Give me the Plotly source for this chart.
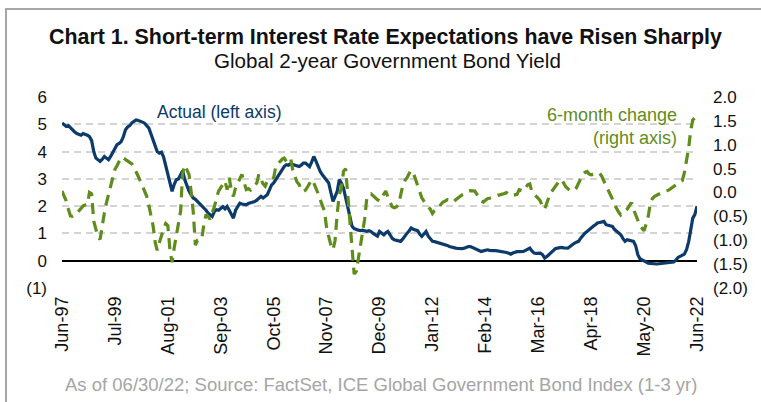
import pandas as pd
import plotly.graph_objects as go

# Monthly observations, Jun-1997 through Jun-2022
start_month = "1997-06-01"

actual_1997 = [5.05, 4.98, 4.92, 4.95, 4.86, 4.80, 4.72]
actual_1998 = [4.66, 4.62, 4.60, 4.66, 4.64, 4.60, 4.55, 4.40, 4.00, 3.76, 3.70, 3.64]
actual_1999 = [3.72, 3.82, 3.76, 3.70, 3.82, 3.95, 4.10, 4.25, 4.30, 4.37, 4.55, 4.80]
actual_2000 = [4.90, 4.95, 5.05, 5.12, 5.16, 5.14, 5.12, 5.08, 5.04, 4.95, 4.86, 4.65]
actual_2001 = [4.40, 4.13, 4.00, 3.94, 3.98, 3.80, 3.50, 3.20, 2.85, 2.54, 2.80, 2.97]
actual_2002 = [3.00, 3.15, 3.30, 2.97, 2.75, 2.55, 2.42, 2.30, 2.25, 2.17, 2.10, 2.05]
actual_2003 = [1.95, 1.85, 1.75, 1.70, 1.62, 1.80, 1.87, 1.85, 1.93, 1.98, 1.90, 1.99]
actual_2004 = [1.85, 1.70, 1.56, 1.85, 2.00, 2.11, 2.08, 2.05, 2.05, 2.10, 2.12, 2.15]
actual_2005 = [2.17, 2.22, 2.30, 2.36, 2.30, 2.38, 2.42, 2.60, 2.78, 2.85, 2.97, 3.10]
actual_2006 = [3.25, 3.33, 3.45, 3.52, 3.50, 3.55, 3.52, 3.50, 3.48, 3.45, 3.50, 3.58]
actual_2007 = [3.58, 3.50, 3.45, 3.62, 3.82, 3.65, 3.45, 3.27, 3.15, 3.05, 2.95, 2.85]
actual_2008 = [2.50, 2.17, 2.35, 2.54, 2.97, 2.85, 2.66, 2.30, 1.93, 1.60, 1.26, 1.18]
actual_2009 = [1.14, 1.12, 1.10, 1.12, 1.10, 1.08, 1.10, 1.07, 1.00, 0.95, 0.90, 1.07]
actual_2010 = [1.00, 0.95, 1.02, 1.07, 0.95, 0.82, 0.77, 0.74, 0.72, 0.71, 0.80, 0.92]
actual_2011 = [1.01, 1.10, 1.20, 1.15, 1.12, 1.10, 0.98, 0.89, 0.98, 1.07, 0.90, 0.78]
actual_2012 = [0.71, 0.70, 0.68, 0.65, 0.64, 0.60, 0.59, 0.56, 0.52, 0.49, 0.47, 0.46]
actual_2013 = [0.45, 0.44, 0.44, 0.46, 0.50, 0.52, 0.52, 0.48, 0.44, 0.40, 0.37, 0.34]
actual_2014 = [0.36, 0.38, 0.40, 0.38, 0.36, 0.37, 0.37, 0.36, 0.35, 0.34, 0.32, 0.30]
actual_2015 = [0.27, 0.24, 0.28, 0.32, 0.33, 0.33, 0.34, 0.34, 0.38, 0.42, 0.46, 0.36]
actual_2016 = [0.28, 0.27, 0.28, 0.28, 0.22, 0.10, 0.15, 0.22, 0.30, 0.38, 0.44, 0.46]
actual_2017 = [0.48, 0.49, 0.47, 0.48, 0.46, 0.52, 0.59, 0.64, 0.68, 0.71, 0.82, 0.92]
actual_2018 = [1.01, 1.07, 1.14, 1.20, 1.26, 1.32, 1.38, 1.40, 1.43, 1.44, 1.32, 1.30]
actual_2019 = [1.28, 1.26, 1.15, 1.07, 1.02, 0.95, 0.82, 0.71, 0.77, 0.74, 0.72, 0.71]
actual_2020 = [0.55, 0.22, 0.08, 0.04, -0.02, -0.06, -0.09, -0.10, -0.11, -0.12, -0.12, -0.11]
actual_2021 = [-0.10, -0.09, -0.09, -0.08, -0.07, -0.06, -0.05, 0.02, 0.12, 0.16, 0.20, 0.24]
actual_2022 = [0.40, 0.70, 1.10, 1.56, 1.69, 2.00]

change_1997 = [0.03, -0.08, -0.18, -0.35, -0.49, -0.50, -0.48]
change_1998 = [-0.45, -0.38, -0.32, -0.28, -0.26, -0.25, 0.00, -0.03, -0.60, -0.74, -0.94, -0.98]
change_1999 = [-0.67, -0.42, -0.22, -0.04, 0.13, 0.30, 0.48, 0.56, 0.65, 0.74, 0.72, 0.69]
change_2000 = [0.67, 0.63, 0.60, 0.52, 0.44, 0.34, 0.24, 0.13, 0.03, -0.08, -0.27, -0.46]
change_2001 = [-0.70, -1.05, -1.21, -1.05, -0.88, -0.76, -0.65, -0.69, -1.22, -1.46, -1.15, -0.90]
change_2002 = [-0.65, -0.39, 0.41, 0.57, 0.48, 0.38, 0.03, -0.40, -1.10, -1.00, -0.99, -0.98]
change_2003 = [-0.67, -0.46, -0.50, -0.56, -0.42, -0.30, -0.12, 0.03, 0.10, 0.17, 0.24, 0.06]
change_2004 = [0.31, 0.03, -0.08, 0.10, 0.20, 0.27, 0.38, 0.22, 0.06, 0.08, 0.05, 0.12]
change_2005 = [0.15, 0.20, 0.38, 0.28, 0.18, 0.13, 0.25, 0.28, 0.30, 0.31, 0.55, 0.60]
change_2006 = [0.65, 0.70, 0.72, 0.65, 0.68, 0.72, 0.48, 0.32, 0.22, 0.17, 0.05, 0.02]
change_2007 = [0.05, 0.12, 0.20, 0.27, 0.20, 0.10, -0.02, -0.15, -0.27, -0.39, -0.74, -0.90]
change_2008 = [-1.10, -1.20, -1.01, -0.45, -0.05, 0.10, 0.44, 0.50, -0.04, -0.60, -1.30, -1.71]
change_2009 = [-1.65, -1.35, -1.08, -0.80, -0.56, -0.11, -0.05, -0.03, -0.08, -0.11, -0.15, -0.18]
change_2010 = [-0.10, -0.02, 0.03, -0.10, -0.22, -0.30, -0.32, -0.30, -0.25, -0.04, 0.15, 0.25]
change_2011 = [0.31, 0.40, 0.46, 0.41, 0.28, 0.13, 0.00, -0.11, -0.18, -0.25, -0.30, -0.35]
change_2012 = [-0.44, -0.38, -0.34, -0.32, -0.25, -0.20, -0.18, -0.15, -0.16, -0.18, -0.20, -0.15]
change_2013 = [-0.11, -0.08, -0.05, -0.03, 0.00, 0.03, 0.04, 0.04, 0.03, -0.04, -0.10, -0.18]
change_2014 = [-0.20, -0.16, -0.13, -0.12, -0.11, -0.10, -0.08, -0.06, -0.05, -0.04, -0.02, 0.00]
change_2015 = [-0.03, -0.07, -0.06, -0.05, -0.04, 0.06, 0.05, 0.03, 0.10, 0.16, 0.18, 0.02]
change_2016 = [-0.04, -0.08, -0.12, -0.18, -0.30, -0.35, -0.20, -0.10, 0.00, 0.06, 0.13, 0.20]
change_2017 = [0.25, 0.27, 0.20, 0.12, 0.08, 0.04, 0.03, 0.05, 0.10, 0.20, 0.30, 0.38]
change_2018 = [0.42, 0.44, 0.39, 0.37, 0.38, 0.40, 0.41, 0.40, 0.34, 0.24, 0.15, 0.05]
change_2019 = [-0.04, -0.14, -0.25, -0.35, -0.41, -0.47, -0.42, -0.38, -0.35, -0.28, -0.21, -0.35]
change_2020 = [-0.45, -0.58, -0.70, -0.76, -0.80, -0.65, -0.49, -0.21, -0.12, -0.08, -0.05, -0.03]
change_2021 = [-0.01, 0.01, 0.02, 0.04, 0.06, 0.09, 0.12, 0.16, 0.20, 0.22, 0.25, 0.41]
change_2022 = [0.65, 0.93, 1.28, 1.52, 1.56, 1.60]

x_tick_labels = ["Jun-97", "Jul-99", "Aug-01", "Sep-03", "Oct-05", "Nov-07", "Dec-09",
                 "Jan-12", "Feb-14", "Mar-16", "Apr-18", "May-20", "Jun-22"]
left_tick_values = [-1, 0, 1, 2, 3, 4, 5, 6]
left_tick_labels = ["(1)", "0", "1", "2", "3", "4", "5", "6"]
right_tick_values = [-2.0, -1.5, -1.0, -0.5, 0.0, 0.5, 1.0, 1.5, 2.0]
right_tick_labels = ["(2.0)", "(1.5)", "(1.0)", "(0.5)", "0.0", "0.5", "1.0", "1.5", "2.0"]

actual = (actual_1997 + actual_1998 + actual_1999 + actual_2000 + actual_2001 + actual_2002
          + actual_2003 + actual_2004 + actual_2005 + actual_2006 + actual_2007 + actual_2008
          + actual_2009 + actual_2010 + actual_2011 + actual_2012 + actual_2013 + actual_2014
          + actual_2015 + actual_2016 + actual_2017 + actual_2018 + actual_2019 + actual_2020
          + actual_2021 + actual_2022)
change = (change_1997 + change_1998 + change_1999 + change_2000 + change_2001 + change_2002
          + change_2003 + change_2004 + change_2005 + change_2006 + change_2007 + change_2008
          + change_2009 + change_2010 + change_2011 + change_2012 + change_2013 + change_2014
          + change_2015 + change_2016 + change_2017 + change_2018 + change_2019 + change_2020
          + change_2021 + change_2022)

dates = pd.date_range(start_month, periods=len(actual), freq="MS")
tick_dates = pd.to_datetime(x_tick_labels, format="%b-%y")

NAVY = "#0c3a6b"
GREEN = "#5f8d1c"
FONT = "Liberation Sans, Arial, sans-serif"

fig = go.Figure()
fig.add_trace(go.Scatter(
    x=dates, y=change, yaxis="y2", mode="lines", name="6-month change",
    line=dict(color=GREEN, width=3.2, dash="11px,7px"),
))
fig.add_trace(go.Scatter(
    x=dates, y=actual, mode="lines", name="Actual",
    line=dict(color=NAVY, width=3.2),
))

L, R, T, B = 62, 64, 97, 114
W, H = 761, 402
ph = H - T - B
pw = W - L - R


def px_x(x):
    return (x - L) / pw


def px_y(y):
    return (H - B - y) / ph


annotations = [
    dict(text="<b>Chart 1. Short-term Interest Rate Expectations have Risen Sharply</b>",
         x=px_x(385), y=px_y(37), font=dict(size=21.4, color="#111111")),
    dict(text="Global 2-year Government Bond Yield",
         x=px_x(387), y=px_y(60), font=dict(size=20.6, color="#111111")),
    dict(text="Actual (left axis)", x=px_x(219), y=px_y(112),
         font=dict(size=17.5, color=NAVY)),
    dict(text="6-month change<br>(right axis)", x=px_x(679), y=px_y(126),
         xanchor="right", align="right", font=dict(size=18, color=GREEN)),
    dict(text="As of 06/30/22; Source: FactSet, ICE Global Government Bond Index (1-3 yr)",
         x=px_x(381), y=px_y(384), font=dict(size=18.5, color="#a5a5a5")),
]
for a in annotations:
    a.update(xref="paper", yref="paper", showarrow=False,
             xanchor=a.get("xanchor", "center"), yanchor="middle")

fig.update_layout(
    width=W, height=H,
    margin=dict(l=L, r=R, t=T, b=B),
    paper_bgcolor="white", plot_bgcolor="white",
    font=dict(family=FONT, color="#111111"),
    showlegend=False,
    annotations=annotations,
    shapes=[dict(type="path", xref="paper", yref="paper",
                 path=f"M {px_x(6)},{px_y(420)} L {px_x(6)},{px_y(9)} L {px_x(780)},{px_y(9)}",
                 line=dict(color="#a6a6a6", width=2))],
    xaxis=dict(
        range=[dates[0], dates[-1]],
        tickvals=tick_dates, ticktext=x_tick_labels,
        tickangle=-90, tickfont=dict(size=18, color="#111111"),
        showgrid=False, zeroline=False, showline=False, ticks="",
        ticklabelstandoff=4,
    ),
    yaxis=dict(
        range=[-1, 6], tickvals=left_tick_values, ticktext=left_tick_labels,
        tickfont=dict(size=17, color="#111111"),
        showgrid=True, gridcolor="#d4d4d4", gridwidth=1.5, griddash="7px,5px",
        zeroline=True, zerolinecolor="#000000", zerolinewidth=1.5,
        showline=False, ticks="", ticklabelstandoff=14,
    ),
    yaxis2=dict(
        range=[-2, 2], tickvals=right_tick_values, ticktext=right_tick_labels,
        tickfont=dict(size=17, color="#111111"),
        overlaying="y", side="right", showgrid=False, zeroline=False,
        showline=False, ticks="", ticklabelstandoff=15,
    ),
)

fig.write_html("out.html")
